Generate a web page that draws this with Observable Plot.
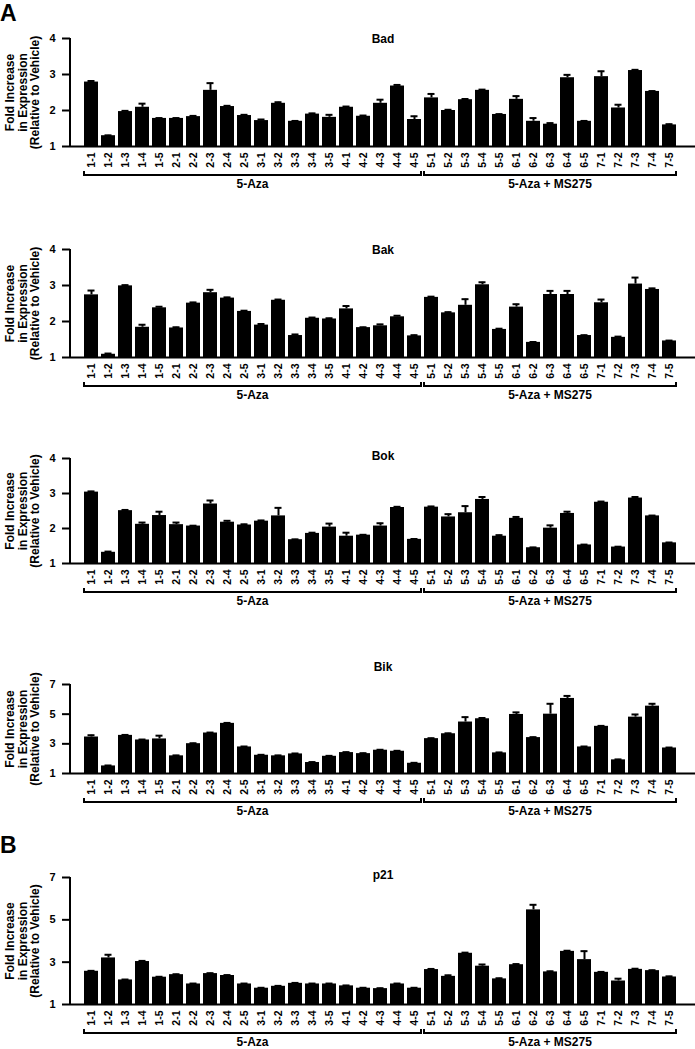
<!DOCTYPE html>
<html><head><meta charset="utf-8">
<script src="https://cdn.jsdelivr.net/npm/d3@7"></script>
<script src="https://cdn.jsdelivr.net/npm/@observablehq/plot@0.6"></script>
<style>
html,body{margin:0;padding:0;overflow:hidden;background:#fff;}
#root{position:relative;width:695px;height:1049px;overflow:hidden;font-family:"Liberation Sans",Arial,sans-serif;}
.panel{position:absolute;left:0;}
.letter{position:absolute;left:0;font-size:23px;line-height:normal;font-weight:bold;color:#000;}
</style></head><body><div id="root"></div>
<script>
const categories = ["1-1","1-2","1-3","1-4","1-5","2-1","2-2","2-3","2-4","2-5","3-1","3-2","3-3","3-4","3-5","4-1","4-2","4-3","4-4","4-5","5-1","5-2","5-3","5-4","5-5","6-1","6-2","6-3","6-4","6-5","7-1","7-2","7-3","7-4","7-5"];
const groupLabels = ["5-Aza", "5-Aza + MS275"];
const groupFirst = ["1-1", "5-1"];
const groupLast = ["4-5", "7-5"];
const yLabelLines = ["Fold Increase", "in Expression", "(Relative to Vehicle)"];
const panelLetters = ["A", "B"];

const badValues = [2.79,1.30,1.97,2.09,1.78, 1.78,1.83,2.56,2.11,1.86, 1.72,2.20,1.70,1.90,1.81, 2.09,1.84,2.20,2.68,1.75, 2.35,2.00,2.30,2.56,1.89, 2.31,1.70,1.62,2.91,1.70, 2.94,2.07,3.11,2.53,1.60];
const badErrors = [0.03,0.01,0.02,0.10,0.01, 0.01,0.02,0.20,0.02,0.02, 0.03,0.03,0.01,0.02,0.07, 0.02,0.02,0.10,0.03,0.09, 0.11,0.02,0.02,0.02,0.01, 0.09,0.09,0.03,0.08,0.01, 0.15,0.09,0.02,0.01,0.02];

const bakValues = [2.74,1.09,2.99,1.84,2.38, 1.82,2.51,2.80,2.65,2.28, 1.90,2.59,1.61,2.09,2.07, 2.35,1.83,1.88,2.13,1.60, 2.67,2.24,2.45,3.02,1.78, 2.40,1.42,2.75,2.75,1.61, 2.52,1.56,3.04,2.89,1.46];
const bakErrors = [0.12,0.02,0.02,0.07,0.03, 0.02,0.02,0.08,0.02,0.02, 0.03,0.02,0.03,0.02,0.02, 0.08,0.01,0.04,0.03,0.02, 0.02,0.02,0.17,0.07,0.02, 0.08,0.01,0.10,0.10,0.01, 0.09,0.02,0.18,0.03,0.01];

const bokValues = [3.04,1.32,2.51,2.12,2.37, 2.11,2.07,2.70,2.18,2.10, 2.21,2.36,1.68,1.86,2.04, 1.78,1.81,2.07,2.60,1.69, 2.61,2.33,2.45,2.83,1.78, 2.29,1.45,2.01,2.43,1.53, 2.75,1.47,2.87,2.36,1.59];
const bokErrors = [0.02,0.02,0.02,0.05,0.11, 0.06,0.01,0.10,0.04,0.02, 0.02,0.23,0.01,0.02,0.10, 0.10,0.01,0.08,0.02,0.01, 0.02,0.08,0.19,0.07,0.03, 0.04,0.01,0.08,0.05,0.01, 0.02,0.01,0.03,0.01,0.01];

const bikValues = [3.46,1.51,3.57,3.26,3.33, 2.19,3.01,3.73,4.38,2.79, 2.23,2.19,2.32,1.74,2.16, 2.41,2.34,2.57,2.50,1.69, 3.35,3.68,4.47,4.69,2.39, 4.98,3.42,5.00,6.06,2.79, 4.18,1.92,4.80,5.54,2.72];
const bikErrors = [0.12,0.03,0.03,0.03,0.22, 0.03,0.03,0.03,0.03,0.03, 0.03,0.03,0.03,0.03,0.03, 0.03,0.03,0.03,0.03,0.03, 0.03,0.03,0.33,0.05,0.03, 0.14,0.03,0.70,0.17,0.03, 0.03,0.03,0.18,0.16,0.03];

const p21Values = [2.57,3.20,2.16,3.03,2.29, 2.41,1.97,2.46,2.37,1.97, 1.77,1.86,2.00,1.97,1.97, 1.88,1.77,1.75,1.97,1.77, 2.65,2.33,3.42,2.81,2.21, 2.88,5.47,2.54,3.51,3.12, 2.52,2.11,2.66,2.60,2.30];
const p21Errors = [0.02,0.15,0.02,0.03,0.02, 0.02,0.02,0.02,0.02,0.02, 0.02,0.02,0.02,0.02,0.02, 0.02,0.02,0.02,0.02,0.02, 0.03,0.05,0.03,0.08,0.03, 0.03,0.24,0.03,0.03,0.40, 0.02,0.11,0.03,0.02,0.03];

const ticksLow = [1,2,3,4];
const ticksHigh = [1,3,5,7];

// layout (pixel positions of top tick and baseline for each panel)
const panels = [
  {title:"Bad", values:badValues, errors:badErrors, domain:[1,4], ticks:ticksLow, topPx:38, basePx:146, titleDy:-4},
  {title:"Bak", values:bakValues, errors:bakErrors, domain:[1,4], ticks:ticksLow, topPx:249, basePx:357, titleDy:-4},
  {title:"Bok", values:bokValues, errors:bokErrors, domain:[1,4], ticks:ticksLow, topPx:458, basePx:563, titleDy:-7},
  {title:"Bik", values:bikValues, errors:bikErrors, domain:[1,7], ticks:ticksHigh, topPx:684, basePx:773, titleDy:-22},
  {title:"p21", values:p21Values, errors:p21Errors, domain:[1,7], ticks:ticksHigh, topPx:877, basePx:1004, titleDy:-7}
];

const FONT = '"Liberation Sans", Arial, sans-serif';
const root = document.getElementById("root");

function decorations(p) {
  return (index, scales) => {
    const x = scales.x, y = scales.y;
    const bw = typeof x.bandwidth === "function" ? x.bandwidth() : x.bandwidth;
    const g = d3.create("svg:g");
    const y0 = y(p.domain[0]), yTop = y(p.domain[1]);
    g.append("path").attr("d", `M70,${yTop}V${y0 + 1}`).attr("stroke", "black").attr("stroke-width", 2).attr("fill", "none");
    const yb = y0 + 29;
    groupLabels.forEach((lab, i) => {
      const x1 = x(groupFirst[i]), x2 = x(groupLast[i]) + bw;
      g.append("path").attr("d", `M${x1},${yb - 4}V${yb}H${x2}V${yb - 4}`)
        .attr("stroke", "black").attr("stroke-width", 2).attr("fill", "none");
      g.append("text").attr("x", (x1 + x2) / 2).attr("y", yb + 9).attr("dy", "0.35em")
        .attr("text-anchor", "middle").attr("font-size", 12).attr("font-weight", "bold")
        .attr("font-family", FONT).text(lab);
    });
    return g.node();
  };
}

panels.forEach(p => {
  const data = categories.map((c, i) => ({cat: c, v: p.values[i], e: p.errors[i]}));
  const mt = 30, mb = 50;
  const height = mt + (p.basePx - p.topPx) + mb;
  const labelOpts = {text: d => d, frameAnchor: "left", textAnchor: "middle", lineAnchor: "middle", rotate: -90, fontSize: 12, fontWeight: "bold"};
  const chart = Plot.plot({
    width: 695, height, marginTop: mt, marginBottom: mb, marginLeft: 70, marginRight: 0,
    style: {fontFamily: FONT, fontWeight: "bold", background: "white", overflow: "visible", color: "black"},
    x: {type: "band", domain: categories, range: [70, 690], paddingInner: 0.165, paddingOuter: 0.27},
    y: {domain: p.domain},
    marks: [
      Plot.barY(data, {x: "cat", y1: 1, y2: "v", fill: "black"}),
      Plot.ruleX(data, {x: "cat", y1: "v", y2: d => d.v + d.e, stroke: "black", strokeWidth: 2}),
      Plot.tickY(data, {x: "cat", y: d => d.v + d.e, stroke: "black", strokeWidth: 2, insetLeft: 3.5, insetRight: 3.5}),
      Plot.axisY({ticks: p.ticks, tickFormat: d => String(d), tickSize: 8, tickPadding: 7, fontSize: 11, fontWeight: "bold", label: null, strokeWidth: 2}),
      Plot.axisX({tickRotate: -90, tickSize: 0, tickPadding: 6, fontSize: 10.5, fontWeight: "bold", label: null}),
      Plot.ruleY([1], {stroke: "black", strokeWidth: 2}),
      Plot.text([p.title], {text: d => d, frameAnchor: "top", dy: p.titleDy, fontSize: 12, fontWeight: "bold"}),
      Plot.text([yLabelLines[0]], {...labelOpts, dx: -60}),
      Plot.text([yLabelLines[1]], {...labelOpts, dx: -47}),
      Plot.text([yLabelLines[2]], {...labelOpts, dx: -35}),
      decorations(p)
    ]
  });
  chart.classList.add("panel");
  chart.style.top = (p.topPx - mt) + "px";
  chart.style.position = "absolute";
  root.appendChild(chart);
});

const letterTops = [0, 832];
panelLetters.forEach((L, i) => {
  const d = document.createElement("div");
  d.className = "letter";
  d.style.top = letterTops[i] + "px";
  d.textContent = L;
  root.appendChild(d);
});
</script></body></html>
